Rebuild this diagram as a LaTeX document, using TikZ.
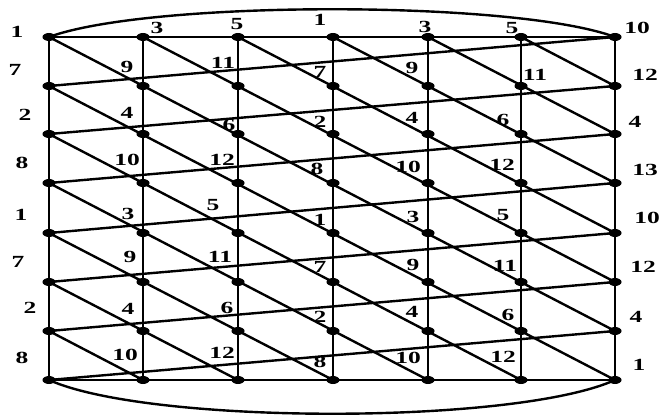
\documentclass[tikz,border=0pt]{standalone}
\usepackage{fontspec}
\newfontfamily\labfont{Liberation Serif}[FakeStretch=1.5]
\usetikzlibrary{shapes.geometric}
\tikzset{
  edge/.style={line width=2.4pt, line cap=round},
  dot/.style={ellipse, fill=black, inner sep=0pt, minimum width=13pt, minimum height=8pt},
  lab/.style={inner sep=0pt, font=\labfont\bfseries\fontsize{17}{17}\selectfont}
}
\begin{document}
\begin{tikzpicture}[x=1pt,y=-1pt]
\useasboundingbox (0,0) rectangle (659,417);
% grid coordinates
\foreach \xx [count=\i] in {49,143,238,333,428,521,615}{
  \foreach \yy [count=\j] in {37,86,134,183,233,282,331,380}{
    \coordinate (c\i-\j) at (\xx,\yy);
  }
}
% verticals
\foreach \i in {1,...,7}{ \draw[edge] (c\i-1) -- (c\i-8); }
% top and bottom straight lines
\draw[edge] (c1-1) -- (c7-1);
\draw[edge] (c1-8) -- (c7-8);
% slanted rising lines
\foreach \k in {2,...,8}{
  \pgfmathtruncatemacro{\km}{\k-1}
  \draw[edge] (c1-\k) -- (c7-\km);
}
% diagonals from left column
\foreach \k in {1,...,7}{
  \pgfmathtruncatemacro{\s}{min(6,8-\k)}
  \pgfmathtruncatemacro{\ci}{1+\s}
  \pgfmathtruncatemacro{\cj}{\k+\s}
  \draw[edge] (c1-\k) -- (c\ci-\cj);
}
% diagonals from top row
\foreach \i in {2,...,6}{
  \pgfmathtruncatemacro{\cj}{8-\i}
  \draw[edge] (c\i-1) -- (c7-\cj);
}
% outer curves
\draw[edge] (c1-1) .. controls (150,0) and (515,0) .. (c7-1);
\draw[edge] (c1-8) .. controls (150,425) and (515,425) .. (c7-8);
% dots
\foreach \i in {1,...,7}{
  \foreach \j in {1,...,8}{
    \node[dot] (d\i-\j) at (c\i-\j) {};
  }
}
% labels
\foreach \t/\px/\py [count=\n] in {
  1/17/32, 7/15/70, 2/25/115, 8/22/163, 1/21/215, 7/18/262, 2/30/308, 8/22/358,
  10/637/28, 12/645/75, 4/635/122, 13/645/170, 10/647/218, 12/643/267, 4/636/317, 1/639/365,
  3/157/28, 5/237/24, 1/320/20, 3/425/27, 5/512/28,
  9/127/67, 11/223/63, 7/320/72, 9/412/68, 11/535/75,
  4/127/113, 6/229/125, 2/320/122, 4/412/118, 6/503/120,
  10/127/160, 12/222/160, 8/317/169, 10/408/167, 12/502/165,
  3/128/214, 5/213/205, 1/320/220, 3/413/217, 5/503/215,
  9/130/257, 11/220/257, 7/320/267, 9/413/265, 11/505/266,
  4/128/309, 6/227/308, 2/320/317, 4/412/312, 6/508/315,
  10/125/355, 12/222/353, 8/320/362, 10/408/358, 12/503/357}{
  \node[lab] (l\n) at (\px,\py) {\t};
}
\end{tikzpicture}
\end{document}
